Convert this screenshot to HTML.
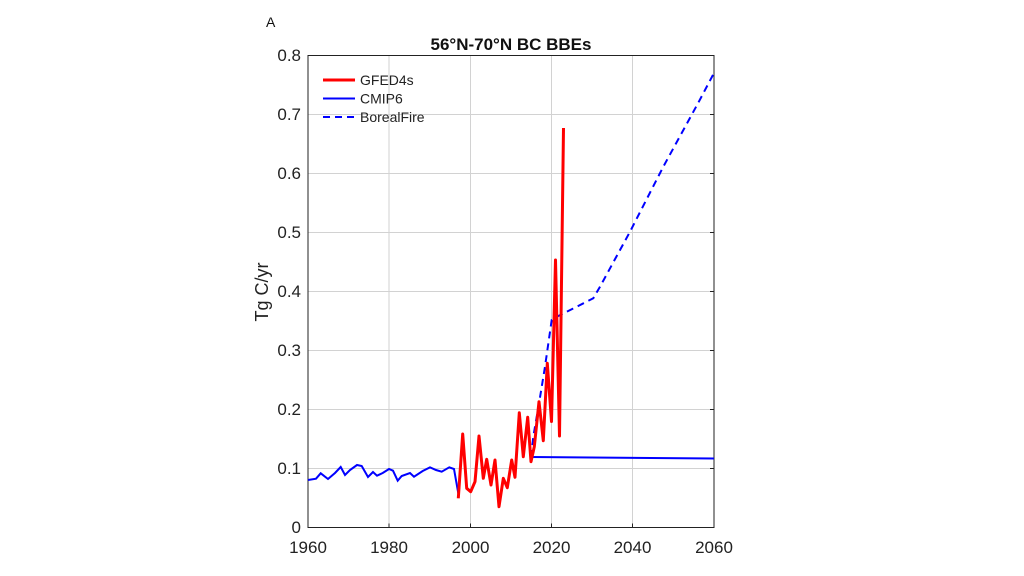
<!DOCTYPE html>
<html><head><style>body{margin:0;background:#fff}svg{display:block;font-family:"Liberation Sans",sans-serif}</style></head><body>
<svg width="1024" height="576" viewBox="0 0 1024 576">
<rect width="1024" height="576" fill="#fff"/>
<g stroke="#d2d2d2" stroke-width="1">
<line x1="389" y1="55.5" x2="389" y2="527.5"/><line x1="470.5" y1="55.5" x2="470.5" y2="527.5"/><line x1="551.5" y1="55.5" x2="551.5" y2="527.5"/><line x1="632.5" y1="55.5" x2="632.5" y2="527.5"/>
<line x1="308" y1="468.5" x2="714" y2="468.5"/><line x1="308" y1="409.5" x2="714" y2="409.5"/><line x1="308" y1="350.5" x2="714" y2="350.5"/><line x1="308" y1="291.5" x2="714" y2="291.5"/><line x1="308" y1="232.5" x2="714" y2="232.5"/><line x1="308" y1="173.5" x2="714" y2="173.5"/><line x1="308" y1="114.5" x2="714" y2="114.5"/>
</g>
<rect x="308" y="55.5" width="406" height="472" fill="none" stroke="#222" stroke-width="1"/>
<g stroke="#222">
<line x1="389" y1="527.5" x2="389" y2="523.5"/><line x1="470.5" y1="527.5" x2="470.5" y2="523.5"/><line x1="551.5" y1="527.5" x2="551.5" y2="523.5"/><line x1="632.5" y1="527.5" x2="632.5" y2="523.5"/>
<line x1="714" y1="468.5" x2="710" y2="468.5"/><line x1="714" y1="409.5" x2="710" y2="409.5"/><line x1="714" y1="350.5" x2="710" y2="350.5"/><line x1="714" y1="291.5" x2="710" y2="291.5"/><line x1="714" y1="232.5" x2="710" y2="232.5"/><line x1="714" y1="173.5" x2="710" y2="173.5"/><line x1="714" y1="114.5" x2="710" y2="114.5"/>
</g>
<polyline fill="none" stroke="#0000ff" stroke-width="2" points="308,480 316,478.7 320.7,473.3 328,479 335,473 340.7,467 345,475 350,470 357,465 361.7,466 368,477 373,472 377,475.7 382.7,473 389,469 393,470.7 397.7,480.7 401.7,476 410,473 414,476.7 422.7,471 430,467.3 436,470 441.7,471.7 449.3,467.3 454,469 458.3,493.3"/>
<polyline fill="none" stroke="#0000ff" stroke-width="2" points="531,457 714,458.5"/>
<polyline fill="none" stroke="#0000ff" stroke-width="2" stroke-dasharray="7,5" points="531,457 533.3,436.7 539.3,401.7 545,366.7 551.7,320 558.3,316 593.3,298.3 600,286.7 630,231.7 663.3,166.7 698.3,102.7 714,73"/>
<polyline fill="none" stroke="#ff0000" stroke-width="3" stroke-linejoin="round" points="458.3,498.3 462.7,434 466.7,488.3 470.7,491.7 475,481.7 479,436 483.3,478.3 486.7,459.3 491,485 495,460 499,506.7 503.3,478.3 507.3,487.7 511.7,460 515,477.3 519.3,412.7 523.3,456.7 527.7,417.3 531,461.7 534.3,446.7 539,401.7 543.3,440.7 547.3,363.3 551.5,421.5 555.5,260 559.5,436 563.5,128"/>
<line x1="323" y1="80" x2="355" y2="80" stroke="#ff0000" stroke-width="3"/>
<line x1="323" y1="98.5" x2="355" y2="98.5" stroke="#0000ff" stroke-width="2"/>
<line x1="323" y1="117" x2="355" y2="117" stroke="#0000ff" stroke-width="2" stroke-dasharray="7,5"/>
<g font-size="14" fill="#222">
<text x="360" y="85">GFED4s</text><text x="360" y="103.5">CMIP6</text><text x="360" y="122">BorealFire</text>
</g>
<g font-size="17" fill="#222" text-anchor="end">
<text x="301" y="533">0</text><text x="301" y="474">0.1</text><text x="301" y="415">0.2</text><text x="301" y="356">0.3</text><text x="301" y="297">0.4</text><text x="301" y="238">0.5</text><text x="301" y="179">0.6</text><text x="301" y="120">0.7</text><text x="301" y="61">0.8</text>
</g>
<g font-size="17" fill="#222" text-anchor="middle">
<text x="308" y="553">1960</text><text x="389" y="553">1980</text><text x="470.5" y="553">2000</text><text x="551.5" y="553">2020</text><text x="632.5" y="553">2040</text><text x="714" y="553">2060</text>
</g>
<text x="511" y="50" font-size="17" font-weight="bold" text-anchor="middle" fill="#111">56°N-70°N BC BBEs</text>
<text x="266" y="27" font-size="14" fill="#111">A</text>
<text transform="translate(268,292) rotate(-90)" font-size="18" text-anchor="middle" fill="#222">Tg C/yr</text>
</svg>
</body></html>
